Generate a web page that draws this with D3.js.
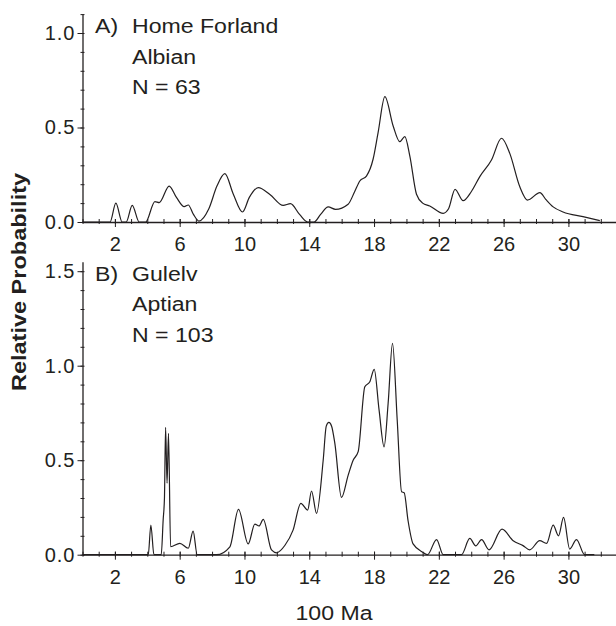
<!DOCTYPE html>
<html>
<head>
<meta charset="utf-8">
<script src="https://cdn.jsdelivr.net/npm/d3@7"></script>
<style>
  body { margin: 0; background: #fff; }
  svg { display: block; }
  text { font-family: "Liberation Sans", Arial, sans-serif; fill: #231f20; }
</style>
</head>
<body>
<div class="svg-container"></div>
<script>
// Panel A, Home Forland (Albian)
var ageA = [0, 1.7, 2.06, 2.45, 2.7, 3.07, 3.5, 3.9, 4.47, 4.74, 5.35, 5.8, 6.28, 6.53, 6.85, 7.19,
  7.8, 8.3, 8.79, 9.3, 9.88, 10.3, 10.85, 11.57, 12.39, 12.84, 13.4, 13.9, 14.3, 14.7, 15.17, 15.62,
  16.4, 16.8, 17.12, 17.53, 17.94, 18.25, 18.67, 19.18, 19.59, 19.9, 20.21, 20.62, 21.0, 21.44, 22.27,
  22.6, 23.0, 23.5, 24.0, 24.53, 25.25, 25.87, 26.38, 27.0, 27.47, 28.24, 28.6, 29.06, 29.67, 30.9, 31.94];
var probA = [0, 0, 0.1, 0, 0, 0.088, 0, 0, 0.108, 0.103, 0.19, 0.13, 0.081, 0.09, 0.04, 0.005,
  0.07, 0.19, 0.256, 0.15, 0.053, 0.13, 0.182, 0.146, 0.088, 0.097, 0.04, 0, 0, 0.04, 0.08, 0.067,
  0.094, 0.16, 0.217, 0.243, 0.332, 0.473, 0.663, 0.508, 0.425, 0.452, 0.349, 0.147, 0.1, 0.085, 0.046,
  0.07, 0.173, 0.113, 0.16, 0.24, 0.328, 0.443, 0.363, 0.186, 0.116, 0.155, 0.12, 0.08, 0.053, 0.028, 0.007];

// Panel B, Gulelv (Aptian)
var ageB = [0, 4.06, 4.22, 4.41, 4.86, 4.98, 5.06, 5.13, 5.22, 5.31, 5.44, 6.01, 6.53, 6.83, 7.08, 8.28,
  9.1, 9.63, 10.23, 10.64, 10.9, 11.16, 11.67, 11.98, 12.5, 13.0, 13.48, 13.9, 14.14, 14.45, 14.86, 15.05,
  15.21, 15.38, 15.58, 15.99, 16.4, 16.71, 17.02, 17.43, 17.74, 18.01, 18.31, 18.62, 18.87, 19.14, 19.43,
  19.7, 19.86, 20.1, 20.41, 21.03, 21.3, 21.86, 22.27, 23.4, 23.91, 24.28, 24.64, 25.1, 25.9, 26.59,
  27.2, 27.61, 28.23, 28.65, 29.06, 29.39, 29.7, 30.08, 30.5, 31.0, 31.6];
var probB = [0, 0, 0.157, 0, 0, 0.184, 0.3, 0.674, 0.378, 0.642, 0.042, 0.06, 0.034, 0.125, 0, 0,
  0.042, 0.24, 0.057, 0.162, 0.152, 0.187, 0.025, 0.01, 0.05, 0.13, 0.272, 0.236, 0.337, 0.219, 0.5, 0.68,
  0.7, 0.68, 0.589, 0.303, 0.42, 0.5, 0.545, 0.889, 0.915, 0.981, 0.766, 0.571, 0.801, 1.118, 0.713,
  0.333, 0.328, 0.18, 0.057, 0.012, 0, 0.08, 0, 0, 0.086, 0.047, 0.08, 0.026, 0.135, 0.074,
  0.048, 0.026, 0.074, 0.06, 0.156, 0.1, 0.197, 0.03, 0.08, 0, 0];

var xMajor = [2, 6, 10, 14, 18, 22, 26, 30];
var xMinor = d3.range(0, 34);
var yMajorA = [0, 0.5, 1.0];
var yMajorB = [0, 0.5, 1.0, 1.5];
var labelsA = ["A)", "Home Forland", "Albian", "N = 63"];
var labelsB = ["B)", "Gulelv", "Aptian", "N = 103"];

var width = 616, height = 626;
var ink = "#231f20";
var unitY = 189; // px per 1.0 probability
var stretch = 1.1; // the original lettering is a bit wider than Liberation Sans

var svg = d3.select(".svg-container").append("svg")
  .attr("width", width).attr("height", height);

var x = d3.scaleLinear().domain([0, 33]).range([82.5, 617]);

var wideText = (parent, tx, ty, size, txt) => {
  return parent.append("text")
    .attr("transform", "translate(" + tx + "," + ty + ") scale(" + stretch + ",1)")
    .attr("font-size", size)
    .text(txt);
};

var drawPanel = (ages, probs, yTicks, yMax, base, labels) => {
  var y = d3.scaleLinear().domain([0, yMax]).range([base, base - yMax * unitY]);
  var g = svg.append("g");

  // minor x ticks, crossing the axis
  var minor = g.append("g").attr("transform", "translate(0," + base + ")")
    .call(d3.axisBottom(x).tickValues(xMinor).tickSize(2).tickSizeOuter(0).tickFormat(""));
  minor.select(".domain").remove();
  minor.selectAll("line").attr("y1", -3).attr("stroke", ink);

  var xa = g.append("g").attr("transform", "translate(0," + base + ")")
    .call(d3.axisBottom(x).tickValues(xMajor).tickSize(5).tickSizeOuter(0).tickPadding(10)
      .tickFormat(d3.format("d")));
  xa.select(".domain").attr("stroke", ink).attr("stroke-width", 1.3);
  xa.selectAll("line").attr("y1", -3).attr("stroke", ink);
  xa.selectAll("text").attr("font-size", 20).style("font-family", null).attr("fill", ink);

  // y axis: minor ticks every 0.1
  var yMinor = d3.range(0, yMax + 0.001, 0.1);
  var ym = g.append("g").attr("transform", "translate(" + x(0) + ",0)")
    .call(d3.axisLeft(y).tickValues(yMinor).tickSize(2).tickSizeOuter(0).tickFormat(""));
  ym.select(".domain").attr("stroke", ink).attr("stroke-width", 1.3);
  ym.selectAll("line").attr("x1", 2).attr("stroke", ink);

  var ya = g.append("g").attr("transform", "translate(" + x(0) + ",0)")
    .call(d3.axisLeft(y).tickValues(yTicks).tickSize(5).tickSizeOuter(0).tickPadding(2)
      .tickFormat(d3.format(".1f")));
  ya.select(".domain").remove();
  ya.selectAll("line").attr("stroke", ink);
  ya.selectAll("text").attr("font-size", 20).attr("letter-spacing", 1)
    .style("font-family", null).attr("fill", ink);

  var line = d3.line()
    .x((d, i) => x(ages[i]))
    .y((d) => y(d))
    .curve(d3.curveMonotoneX);

  g.append("path").datum(probs)
    .attr("d", line)
    .attr("fill", "none")
    .attr("stroke", ink)
    .attr("stroke-width", 1.2);

  // panel caption
  var top = base - yMax * unitY;
  wideText(g, 95, top + 19, 21, labels[0]);
  labels.slice(1).forEach((t, i) => {
    wideText(g, 132, top + 19 + i * 30.5, 21, t);
  });
};

drawPanel(ageA, probA, yMajorA, 1.1, 222, labelsA);
drawPanel(ageB, probB, yMajorB, 1.55, 554.7, labelsB);

svg.append("text")
  .attr("transform", "translate(26,282) rotate(-90) scale(1.12,1)")
  .attr("text-anchor", "middle")
  .attr("font-size", 21)
  .attr("font-weight", "bold")
  .text("Relative Probability");

svg.append("text")
  .attr("transform", "translate(334,620) scale(" + stretch + ",1)")
  .attr("text-anchor", "middle")
  .attr("font-size", 21)
  .text("100 Ma");
</script>
</body>
</html>
